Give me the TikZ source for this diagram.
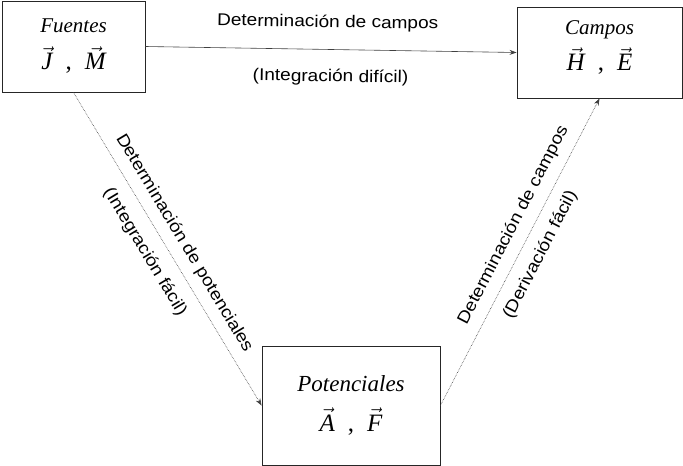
\documentclass[tikz,border=0pt]{standalone}
\usepackage{fontspec}
\setmainfont{Liberation Serif}
\newfontfamily\arialfont[FakeStretch=1.12]{Liberation Sans}
\usetikzlibrary{arrows.meta}
\newcommand\vecit[1]{$\vec{\mbox{\itshape #1}}$}
\newcommand\vsep{\hspace{13pt},\hspace{13pt}}

\begin{document}
\begin{tikzpicture}[x=1pt,y=1pt,
  box/.style={draw=black!85,line width=0.9pt,align=center,inner sep=0pt},
  link/.style={black!75,line width=0.6pt,-{Stealth[length=7pt,width=5pt]}},
  lbl/.style={text=black,font=\arialfont\fontsize{17}{20}\selectfont,sloped}]
\useasboundingbox (0,0) rectangle (683,-466);

\node[box,minimum width=143,minimum height=91,font=\fontsize{21}{37}\selectfont] (fuentes) at (73.5,-46.5)
  {\textit{Fuentes}\\\fontsize{25}{37}\selectfont\vecit{J}\vsep\vecit{M}};
\node[box,minimum width=165,minimum height=91,font=\fontsize{21}{36}\selectfont] (campos) at (599.5,-52.5)
  {\textit{Campos}\\\fontsize{25}{36}\selectfont\vecit{H}\vsep\vecit{E}\rule[-13pt]{0pt}{1pt}};
\node[box,minimum width=178,minimum height=119,font=\fontsize{23}{40}\selectfont] (potenciales) at (351,-405.5)
  {\textit{Potenciales}\\\fontsize{25}{40}\selectfont\vecit{A}\vsep\vecit{F}};

\draw[link] (fuentes.east) -- node[lbl,pos=.49,above=15pt] {Determinación de campos}
  node[lbl,pos=.5,below=16pt] {(Integración difícil)} (campos.west);
\draw[link,densely dotted] (fuentes.south) -- node[lbl,pos=.51,above=5.6pt] {Determinación de potenciales}
  node[lbl,pos=.475,below=9.3pt] {(Integración fácil)} (potenciales.west);
\draw[link,densely dotted] (potenciales.east) -- node[lbl,pos=.56,above=6.5pt] {Determinación de campos}
  node[lbl,pos=.52,below=7.8pt] {(Derivación fácil)} (campos.south);
\end{tikzpicture}
\end{document}
